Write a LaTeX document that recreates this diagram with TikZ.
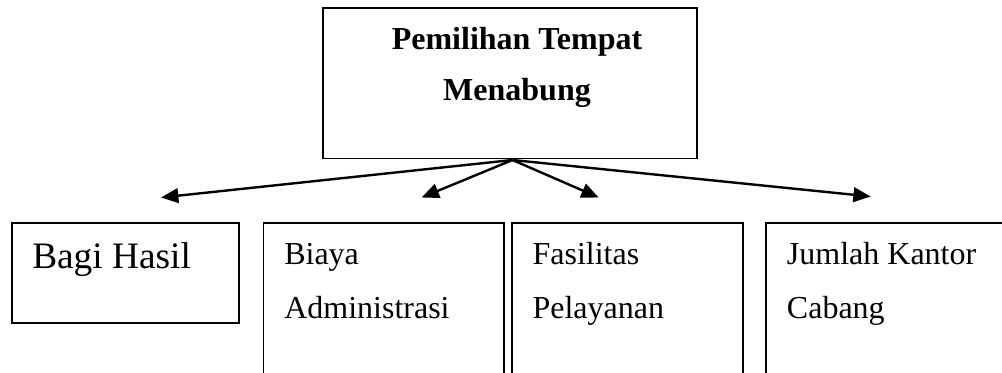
\documentclass[tikz,border=0pt]{standalone}
\usepackage{fontspec}
\setmainfont{Liberation Serif}
\usetikzlibrary{arrows.meta}
\begin{document}
\begin{tikzpicture}[x=0.75pt,y=-0.75pt,
  box/.style={draw,line width=1.3pt,inner sep=0pt,outer sep=0pt},
  conn/.style={line width=1.8pt,-{Triangle[length=13pt,width=11pt]}},
  titletext/.style={font=\fontsize{24}{24}\selectfont\bfseries,inner sep=0pt,anchor=base},
  bodytext/.style={font=\fontsize{24}{24}\selectfont,inner sep=0pt,anchor=base west},
  bigtext/.style={font=\fontsize{28}{28}\selectfont,inner sep=0pt,anchor=base west}]
\useasboundingbox (0,0) rectangle (1002,372);
\clip (0,0) rectangle (1002,372);
% boxes
\node[box,minimum width=280.7pt,minimum height=112.9pt] (top) at (509.8,83.2) {};
\node[box,minimum width=170.5pt,minimum height=75.2pt] (b1) at (125.4,273.2) {};
\node[box,minimum width=180.5pt,minimum height=132.8pt] (b2) at (383.7,311.5) {};
\node[box,minimum width=173.3pt,minimum height=132.8pt] (b3) at (627.8,311.5) {};
\node[box,minimum width=183.2pt,minimum height=132.8pt] (b4) at (887.9,311.5) {};
% texts
\node[titletext] (t1) at (517,49) {Pemilihan Tempat};
\node[titletext] (t2) at (517,100) {Menabung};
\node[bigtext] (l1) at (32,268) {Bagi Hasil};
\node[bodytext] (l2a) at (284,264) {Biaya};
\node[bodytext] (l2b) at (284,318) {Administrasi};
\node[bodytext] (l3a) at (532.3,264) {Fasilitas};
\node[bodytext] (l3b) at (532.3,318) {Pelayanan};
\node[bodytext] (l4a) at (786.7,264) {Jumlah Kantor};
\node[bodytext] (l4b) at (786.7,318) {Cabang};
% connectors
\coordinate (src) at (512.5,160);
\coordinate (e1) at (161,197.5);
\coordinate (e2) at (421.7,197.5);
\coordinate (e3) at (598.7,197.5);
\coordinate (e4) at (870.7,196.5);
\draw[conn] (src) -- (e1);
\draw[conn] (src) -- (e2);
\draw[conn] (src) -- (e3);
\draw[conn] (src) -- (e4);
\end{tikzpicture}
\end{document}
